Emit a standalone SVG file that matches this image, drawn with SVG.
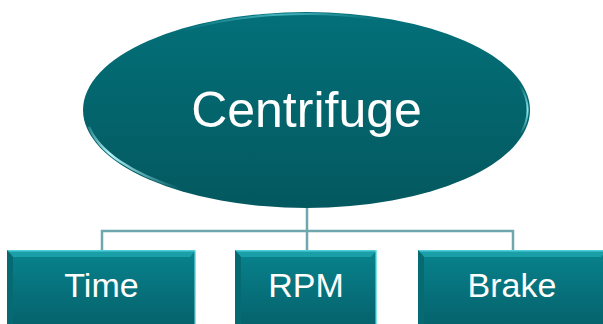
<svg xmlns="http://www.w3.org/2000/svg" width="603" height="324" viewBox="0 0 603 324">
  <defs>
    <linearGradient id="ovalFill" x1="0" y1="0" x2="0" y2="1">
      <stop offset="0" stop-color="#037079"/>
      <stop offset="1" stop-color="#04585f"/>
    </linearGradient>
    <linearGradient id="boxFill" x1="0" y1="0" x2="0" y2="1">
      <stop offset="0" stop-color="#08838d"/>
      <stop offset="1" stop-color="#05606a"/>
    </linearGradient>
    <linearGradient id="rimLeft" gradientUnits="userSpaceOnUse" x1="88" y1="126" x2="180" y2="189">
      <stop offset="0" stop-color="#9ff0f5" stop-opacity="0.2"/>
      <stop offset="0.3" stop-color="#b5f6fa" stop-opacity="1"/>
      <stop offset="1" stop-color="#9ff0f5" stop-opacity="0"/>
    </linearGradient>
    <linearGradient id="rimRight" gradientUnits="userSpaceOnUse" x1="0" y1="85" x2="0" y2="135">
      <stop offset="0" stop-color="#8ee9f0" stop-opacity="0"/>
      <stop offset="0.5" stop-color="#8ee9f0" stop-opacity="1"/>
      <stop offset="1" stop-color="#8ee9f0" stop-opacity="0"/>
    </linearGradient>
    <linearGradient id="rimTop" gradientUnits="userSpaceOnUse" x1="180" y1="0" x2="382" y2="0">
      <stop offset="0" stop-color="#5fd0d8" stop-opacity="0"/>
      <stop offset="0.5" stop-color="#5fd0d8" stop-opacity="0.7"/>
      <stop offset="1" stop-color="#5fd0d8" stop-opacity="0"/>
    </linearGradient>
    <clipPath id="ovalClip">
      <ellipse cx="306.5" cy="110" rx="223.5" ry="98"/>
    </clipPath>
    <style>
      .link { fill: none; stroke: #6fa7ae; stroke-width: 2.5; }
      .box { fill: url(#boxFill); }
      .bevelTop { fill: #1a9ea8; }
      .bevelTopEdge { stroke: #4fd0da; stroke-width: 1.5; }
      .bevelLeft { fill: #066a73; }
      .bevelRight { stroke: #7fe6ee; stroke-width: 1.5; }
      .rim { fill: none; }
      .label { font-family: "Liberation Sans", Arial, sans-serif; fill: #ffffff; text-anchor: middle; }
    </style>
  </defs>

  <!-- connectors -->
  <g id="connectors">
    <path class="link" d="M307,206 V250"/>
    <path class="link" d="M102,250 V231 H513 V250"/>
  </g>

  <!-- root oval with glossy rim -->
  <g id="centrifuge">
    <ellipse cx="306.5" cy="110" rx="223.5" ry="98" fill="url(#ovalFill)"/>
    <g clip-path="url(#ovalClip)">
      <path class="rim" d="M179.7,31.4 A221,96 0 0 1 382,19.8" stroke="url(#rimTop)" stroke-width="2"/>
      <path class="rim" d="M88.9,126.7 A221,96 0 0 0 179.7,188.6" stroke="url(#rimLeft)" stroke-width="2.5"/>
      <path class="rim" d="M520,85.2 A221,96 0 0 1 520,134.8" stroke="url(#rimRight)" stroke-width="2"/>
    </g>
    <text class="label" x="306.5" y="127" font-size="50">Centrifuge</text>
  </g>

  <!-- child boxes -->
  <g id="time">
    <rect class="box" x="7" y="250" width="189" height="80"/>
    <polygon class="bevelTop" points="7,250 196,250 190,257 13,257"/>
    <line class="bevelTopEdge" x1="7" y1="250.75" x2="196" y2="250.75"/>
    <polygon class="bevelLeft" points="7,250 13,257 13,330 7,330"/>
    <line class="bevelRight" x1="195.25" y1="250" x2="195.25" y2="330"/>
    <text class="label" x="101.5" y="297" font-size="34">Time</text>
  </g>

  <g id="rpm">
    <rect class="box" x="235" y="250" width="142" height="80"/>
    <polygon class="bevelTop" points="235,250 377,250 371,257 241,257"/>
    <line class="bevelTopEdge" x1="235" y1="250.75" x2="377" y2="250.75"/>
    <polygon class="bevelLeft" points="235,250 241,257 241,330 235,330"/>
    <line class="bevelRight" x1="376.25" y1="250" x2="376.25" y2="330"/>
    <text class="label" x="306" y="297" font-size="34">RPM</text>
  </g>

  <g id="brake">
    <rect class="box" x="418" y="250" width="189" height="80"/>
    <polygon class="bevelTop" points="418,250 607,250 601,257 424,257"/>
    <line class="bevelTopEdge" x1="418" y1="250.75" x2="607" y2="250.75"/>
    <polygon class="bevelLeft" points="418,250 424,257 424,330 418,330"/>
    <text class="label" x="512" y="297" font-size="34">Brake</text>
  </g>
</svg>
